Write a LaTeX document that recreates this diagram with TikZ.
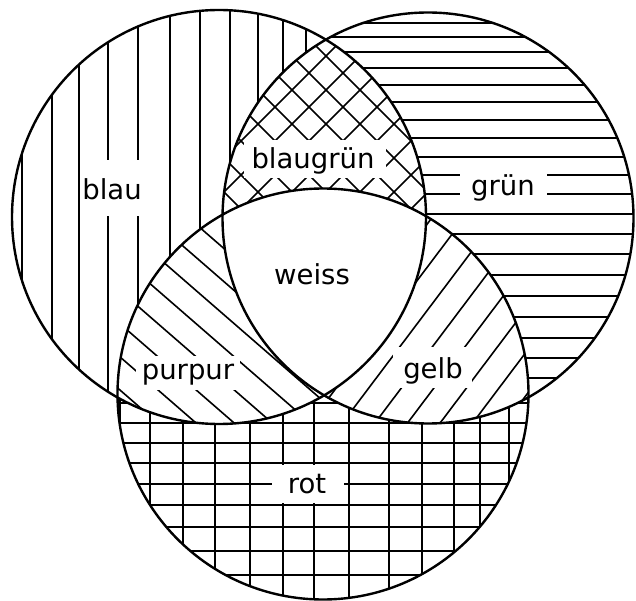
\documentclass[tikz,border=0pt]{standalone}
\usepackage{fontspec}
\setmainfont{DejaVu Sans}
\begin{document}
\begin{tikzpicture}[x=1pt,y=-1pt,
  hatch/.style={line width=1.6pt, line cap=butt},
  rim/.style={line width=2.4pt},
  lab/.style={font=\fontsize{27.5}{30}\selectfont, inner sep=0pt, anchor=base},
  knock/.style={fill=white}]
\useasboundingbox (0,0) rectangle (636,601);
\fill[white] (0,0) rectangle (636,601);
\coordinate (B) at (219,217);
\coordinate (G) at (428,218);
\coordinate (R) at (323,394);
\def\rB{207pt}
\def\rG{205.5pt}
\def\rR{205.5pt}
% blau: vertical lines
\begin{scope}
  \clip (B) circle[radius=\rB];
  \foreach \x in {22,52,79,108,138,170,200,230,258,283,306}
    \draw[hatch] (\x,0) -- (\x,601);
\end{scope}
% gruen: horizontal lines
\begin{scope}
  \clip (G) circle[radius=\rG];
  \fill[white] (0,0) rectangle (636,601);
  \foreach \y in {23,37,52,68,85,102,120,138,157,175,194,214,234,254,275,296,317,338,358,378,398,418}
    \draw[hatch] (0,\y) -- (636,\y);
\end{scope}
% rot: grid
\begin{scope}
  \clip (R) circle[radius=\rR];
  \fill[white] (0,0) rectangle (636,601);
  \foreach \x in {120,150,183,215,250,283,314,349,389,422,454,480,509}
    \draw[hatch] (\x,0) -- (\x,601);
  \foreach \y in {403,423,443,463,484,505,527,551,575}
    \draw[hatch] (0,\y) -- (636,\y);
\end{scope}
% blaugruen: cross hatch
\begin{scope}
  \clip (B) circle[radius=\rB];
  \clip (G) circle[radius=\rG];
  \fill[white] (0,0) rectangle (636,601);
  \foreach \c in {178,212,...,790}
    \draw[hatch] (\c,0) -- ({\c-601},601);
  \foreach \c in {-104,-70,...,470}
    \draw[hatch] (\c,0) -- ({\c+601},601);
\end{scope}
% purpur: falling diagonals
\begin{scope}
  \clip (B) circle[radius=\rB];
  \clip (R) circle[radius=\rR];
  \fill[white] (0,0) rectangle (636,601);
  \foreach \k in {-10,...,7}
    \draw[hatch] ({(90.7+25*\k)*(-0.656)-600*0.755},{(90.7+25*\k)*0.755-600*0.656})
              -- ({(90.7+25*\k)*(-0.656)+600*0.755},{(90.7+25*\k)*0.755+600*0.656});
\end{scope}
% gelb: rising diagonals
\begin{scope}
  \clip (G) circle[radius=\rG];
  \clip (R) circle[radius=\rR];
  \fill[white] (0,0) rectangle (636,601);
  \foreach \k in {-10,...,7}
    \draw[hatch] ({(527.8+26*\k)*0.799-600*0.602},{(527.8+26*\k)*0.602+600*0.799})
              -- ({(527.8+26*\k)*0.799+600*0.602},{(527.8+26*\k)*0.602-600*0.799});
\end{scope}
% weiss
\begin{scope}
  \clip (B) circle[radius=\rB];
  \clip (G) circle[radius=\rG];
  \clip (R) circle[radius=\rR];
  \fill[white] (0,0) rectangle (636,601);
\end{scope}
% label knock-outs
\fill[knock] (80,160) rectangle (144,216);
\fill[knock] (244,140) rectangle (386,178);
\fill[knock] (460,164) rectangle (547,201);
\fill[knock] (136,356) rectangle (240,390);
\fill[knock] (393,347) rectangle (472,388);
\fill[knock] (272,465) rectangle (344,503);
% outlines
\draw[rim] (B) circle[radius=\rB];
\draw[rim] (G) circle[radius=\rG];
\draw[rim] (R) circle[radius=\rR];
% labels
\node[lab] (tblau) at (112,200) {blau};
\node[lab] (tblaugruen) at (313,169) {blaugrün};
\node[lab] (tgruen) at (503,196) {grün};
\node[lab] (tweiss) at (312,284) {weiss};
\node[lab] (tpurpur) at (188,379) {purpur};
\node[lab] (tgelb) at (433,378) {gelb};
\node[lab] (trot) at (307,493) {rot};
\end{tikzpicture}
\end{document}
